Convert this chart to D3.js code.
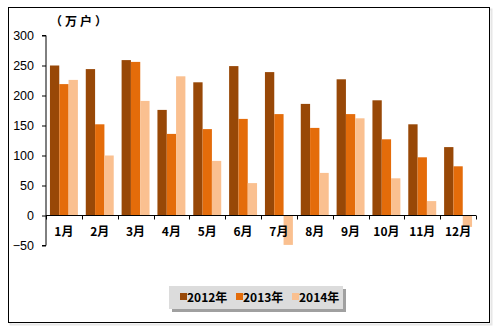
<!DOCTYPE html>
<html><head><meta charset="utf-8">
<script src="https://cdn.jsdelivr.net/npm/d3@7"></script>
<style>body{margin:0;background:#fff}svg{display:block}</style>
</head><body>
<script>
const categories = ["1月","2月","3月","4月","5月","6月","7月","8月","9月","10月","11月","12月"];
const seriesNames = ["2012年","2013年","2014年"];
const s2012 = [250,244,259,176,222,249,239,186,227,192,152,114];
const s2013 = [219,152,256,136,144,161,169,146,169,127,97,82];
const s2014 = [226,100,191,232,91,54,-49,71,162,62,24,-19];
const yTicks = [-50,0,50,100,150,200,250,300];
const colors = ["#984807","#E46C0A","#FAC090"];
const unitLabel = "（万户）";

const W=503,H=333;
const svg=d3.select("body").append("svg").attr("width",W).attr("height",H);
svg.append("rect").attr("x",10.5).attr("y",9.5).attr("width",481).attr("height",315).attr("fill","none").attr("stroke","#e6e6e6").attr("stroke-width",2);
svg.append("rect").attr("x",8.5).attr("y",7.5).attr("width",481).attr("height",315).attr("fill","#fff").attr("stroke","#000").attr("stroke-width",1);

const x=d3.scaleBand().domain(categories).range([46,476]).paddingInner(0.22).paddingOuter(0.11);
const y=d3.scaleLinear().domain([-50,300]).range([245.5,35.5]);
const inner=d3.scaleBand().domain(seriesNames).range([0,x.bandwidth()]);

const ya=svg.append("g").attr("transform","translate(46,0)")
 .call(d3.axisLeft(y).tickValues(yTicks).tickSize(4).tickFormat(d3.format("d")));
ya.select(".domain").attr("d","M-4,"+y(300)+"H0V"+y(-50)+"H-4");
ya.selectAll("text").attr("font-family","Arial, Liberation Sans, sans-serif").attr("font-size",12.5).attr("fill","#000").attr("x",-12);
ya.selectAll("line,path").attr("stroke","#000");

const data=[s2012,s2013,s2014];
data.forEach((arr,si)=>{
 svg.append("g").selectAll("rect").data(arr).join("rect")
  .attr("x",(d,i)=>x(categories[i])+inner(seriesNames[si]))
  .attr("width",inner.bandwidth())
  .attr("y",d=>y(Math.max(0,d)))
  .attr("height",d=>Math.abs(y(d)-y(0)))
  .attr("fill",colors[si]);
});

const xa=svg.append("g").attr("transform","translate(0,"+y(0)+")");
xa.append("line").attr("x1",46).attr("x2",476).attr("stroke","#000");
d3.range(13).forEach(i=>{
 const xx=Math.round(46+i*(430/12))+0.5;
 xa.append("line").attr("x1",xx).attr("x2",xx).attr("y1",0).attr("y2",4).attr("stroke","#000");
});
xa.selectAll("text.cat").data(categories).join("text").attr("class","cat")
 .attr("x",d=>x(d)+x.bandwidth()/2).attr("y",20)
 .attr("text-anchor","middle").attr("font-family","Noto Sans CJK SC, sans-serif").attr("font-weight","bold").attr("font-size",12).text(d=>d);

svg.append("text").attr("x",50).attr("y",26).attr("letter-spacing",3).attr("font-family","Noto Sans CJK SC, sans-serif").attr("font-weight","bold").attr("font-size",12).text(unitLabel);

const lg=svg.append("g");
lg.append("rect").attr("x",172).attr("y",289).attr("width",174).attr("height",23).attr("fill","#a0a0a0");
lg.append("rect").attr("x",169).attr("y",286).attr("width",174).attr("height",23).attr("fill","#dcdcdc");
const lx=[180,236,292];
seriesNames.forEach((n,i)=>{
 lg.append("rect").attr("x",lx[i]).attr("y",293).attr("width",7).attr("height",7).attr("fill",colors[i]);
 lg.append("text").attr("x",lx[i]+7).attr("y",302).attr("font-family","Noto Sans CJK SC, sans-serif").attr("font-weight","bold").attr("font-size",12).text(n);
});
</script>
</body></html>
